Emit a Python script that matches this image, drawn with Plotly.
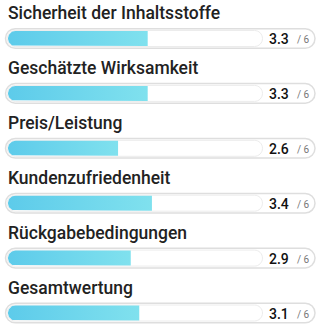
import numpy as np
import plotly.graph_objects as go

categories = ["Sicherheit der Inhaltsstoffe", "Geschätzte Wirksamkeit", "Preis/Leistung",
              "Kundenzufriedenheit", "Rückgabebedingungen", "Gesamtwertung"]
scores = [3.3, 3.3, 2.6, 3.4, 2.9, 3.1]
max_score = 6

W, H = 321, 330
X0, X1 = 8, 262          # pixel span of the score scale
K = (X1 - X0) / max_score  # px per unit
ROW0, STEP = 38.5, 54.9
TITLE_OFF = -25.5


def px(p):
    return (p - X0) / K


def rrect(x0, x1, y0, y1, r):
    k = 0.5523 * r
    pts = [("M", [(x0 + r, y0)]), ("L", [(x1 - r, y0)]),
           ("C", [(x1 - r + k, y0), (x1, y0 + r - k), (x1, y0 + r)]),
           ("L", [(x1, y1 - r)]),
           ("C", [(x1, y1 - r + k), (x1 - r + k, y1), (x1 - r, y1)]),
           ("L", [(x0 + r, y1)]),
           ("C", [(x0 + r - k, y1), (x0, y1 - r + k), (x0, y1 - r)]),
           ("L", [(x0, y0 + r)]),
           ("C", [(x0, y0 + r - k), (x0 + r - k, y0), (x0 + r, y0)])]
    s = ""
    for cmd, ps in pts:
        s += cmd + " " + " ".join(f"{px(a):.5f},{b:.3f}" for a, b in ps) + " "
    return s + "Z"


fig = go.Figure()
shapes, annotations = [], []
r = 7.5
rx = r / K
for i, (cat, v) in enumerate(zip(categories, scores)):
    yc = ROW0 + STEP * i
    shapes.append(dict(type="path", xref="x", yref="y", layer="below",
                       path=rrect(5.5, 315, yc - 9.8, yc + 9.8, 9.8),
                       fillcolor="white", line=dict(color="#dedede", width=1.5)))
    shapes.append(dict(type="path", xref="x", yref="y", layer="below",
                       path=rrect(7.2, 262.5, yc - 8, yc + 8, 8),
                       fillcolor="white", line=dict(color="#ececec", width=1)))
    th = np.linspace(np.pi / 2, 3 * np.pi / 2, 24)
    xs = [rx, v, v, rx] + list(rx + r * np.cos(th) / K)
    ys = [yc - r, yc - r, yc + r, yc + r] + list(yc + r * np.sin(th))
    fig.add_trace(go.Scatter(x=xs, y=ys, mode="lines", fill="toself",
                             line=dict(width=0),
                             fillgradient=dict(type="horizontal",
                                               colorscale=[[0, "#5dcbea"], [1, "#80e1ee"]]),
                             hoverinfo="skip", showlegend=False))
    annotations.append(dict(xref="x", yref="y", x=px(6), y=yc + TITLE_OFF, text=cat,
                            xanchor="left", yanchor="middle", showarrow=False,
                            font=dict(family="Roboto", size=17.5, color="#222", weight=500)))
    annotations.append(dict(xref="x", yref="y", x=px(291), y=yc + 0.5, text=f"{v:.1f}",
                            xanchor="right", yanchor="middle", showarrow=False,
                            font=dict(family="Roboto", size=14, color="#111", weight=500)))
    annotations.append(dict(xref="x", yref="y", x=px(294.5), y=yc + 1, text=f"/ {max_score}",
                            xanchor="left", yanchor="middle", showarrow=False,
                            font=dict(family="Roboto", size=10, color="#777")))

fig.update_layout(
    width=W, height=H, margin=dict(l=0, r=0, t=0, b=0),
    paper_bgcolor="white", plot_bgcolor="white",
    xaxis=dict(domain=[0, 1], range=[px(0), px(W)], visible=False, fixedrange=True),
    yaxis=dict(range=[H, 0], visible=False, fixedrange=True),
    shapes=shapes, annotations=annotations, showlegend=False,
)
fig.write_html("out.html", config=dict(displayModeBar=False))
